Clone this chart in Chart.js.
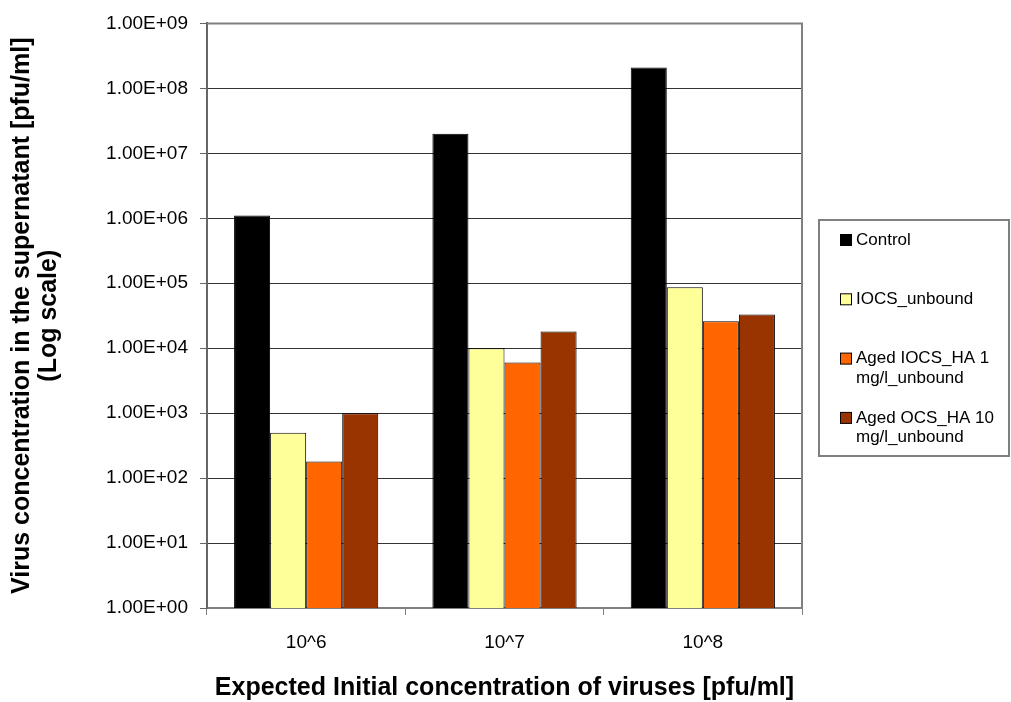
<!DOCTYPE html>
<html>
<head>
<meta charset="utf-8">
<script src="https://cdn.jsdelivr.net/npm/chart.js@4/dist/chart.umd.min.js"></script>
<style>
  body { margin: 0; background: #fff; }
  #wrap { width: 1011px; height: 702px; }
</style>
</head>
<body>
<div id="wrap"><canvas id="chart" width="1011" height="702"></canvas></div>
<script>
// data
const categories = ['10^6', '10^7', '10^8'];
const seriesNames = ['Control', 'IOCS_unbound', 'Aged IOCS_HA 1 mg/l_unbound', 'Aged OCS_HA 10 mg/l_unbound'];
const control = [1.1e6, 2.0e7, 2.1e8];
const iocsUnbound = [500, 1.0e4, 8.7e4];
const agedIocsHa1 = [180, 6000, 2.6e4];
const agedOcsHa10 = [1000, 1.8e4, 3.3e4];
const yTicks = [1, 1e1, 1e2, 1e3, 1e4, 1e5, 1e6, 1e7, 1e8, 1e9];

const colors = ['#000000', '#FFFF99', '#FF6600', '#993300'];
const FONT = "Arial, 'Liberation Sans', sans-serif";

// 1e9 -> "1.00E+09"
const sciLabel = (v) => {
    const [m, e] = Number(v).toExponential(2).split('e');
    return m + 'E' + e[0] + e.slice(1).padStart(2, '0');
};

// plot frame (top + right) like the excel chart
const framePlugin = {
    id: 'frame',
    afterDatasetsDraw(chart) {
        const {ctx, chartArea: a} = chart;
        ctx.save();
        ctx.strokeStyle = '#808080';
        ctx.lineWidth = 2;
        ctx.beginPath();
        ctx.moveTo(a.left, a.top);
        ctx.lineTo(a.right, a.top);
        ctx.lineTo(a.right, a.bottom);
        ctx.stroke();
        ctx.restore();
    }
};

// boxed legend on the right, labels wrapped
const boxLegend = {
    id: 'boxLegend',
    afterDraw(chart) {
        const ctx = chart.ctx;
        const box = {x: 819, y: 220, w: 190, h: 236};
        ctx.save();
        ctx.strokeStyle = '#808080';
        ctx.lineWidth = 2;
        ctx.strokeRect(box.x, box.y, box.w, box.h);
        ctx.font = '17px ' + FONT;
        ctx.textBaseline = 'middle';
        const maxW = box.w - 42;
        chart.data.datasets.forEach((ds, i) => {
            const cy = box.y + 20 + i * 59.3;
            ctx.fillStyle = ds.backgroundColor;
            ctx.fillRect(840.5, cy - 5.5, 11, 11);
            ctx.strokeStyle = '#000';
            ctx.lineWidth = 1;
            ctx.strokeRect(840.5, cy - 5.5, 11, 11);
            // wrap words
            const words = ds.label.split(' ');
            const lines = [];
            let cur = '';
            words.forEach(w => {
                const t = cur ? cur + ' ' + w : w;
                if (ctx.measureText(t).width > maxW && cur) { lines.push(cur); cur = w; }
                else cur = t;
            });
            lines.push(cur);
            ctx.fillStyle = '#000';
            lines.forEach((l, k) => ctx.fillText(l, 856, cy + k * 19.5));
        });
        ctx.restore();
    }
};

const seriesValues = [control, iocsUnbound, agedIocsHa1, agedOcsHa10];

new Chart(document.getElementById('chart'), {
    type: 'bar',
    data: {
        labels: categories,
        datasets: seriesValues.map((vals, i) => ({
            label: seriesNames[i],
            data: vals,
            backgroundColor: colors[i],
            borderColor: '#000',
            borderWidth: 1,
            categoryPercentage: 0.727,
            barPercentage: 1
        }))
    },
    options: {
        responsive: false,
        animation: false,
        layout: { padding: { left: 0, right: 209, top: 21, bottom: 0 } },
        plugins: { legend: { display: false }, tooltip: { enabled: false } },
        scales: {
            x: {
                grid: { offset: true, drawOnChartArea: false, tickLength: 7, color: '#808080', lineWidth: 1 },
                border: { color: '#808080', width: 2 },
                ticks: { color: '#000', font: { family: FONT, size: 19 }, padding: 16 },
                title: {
                    display: true,
                    text: 'Expected Initial concentration of viruses [pfu/ml]',
                    color: '#000',
                    font: { family: FONT, size: 25, weight: 'bold', lineHeight: 1.1 },
                    padding: { top: 0, bottom: 0 }
                },
                afterFit: (s) => { s.height = 94; }
            },
            y: {
                type: 'logarithmic',
                min: 1,
                max: 1e9,
                afterBuildTicks: (s) => { s.ticks = yTicks.map(v => ({ value: v })); },
                grid: { color: '#333', lineWidth: 1, tickLength: 7, tickColor: '#666' },
                border: { color: '#666', width: 2 },
                ticks: {
                    color: '#000',
                    font: { family: FONT, size: 19 },
                    padding: 12,
                    callback: (v) => sciLabel(v)
                },
                title: {
                    display: true,
                    text: ['Virus concentration in the supernatant [pfu/ml]', '(Log scale)'],
                    color: '#000',
                    font: { family: FONT, size: 25, weight: 'bold', lineHeight: 1.1 },
                    padding: { top: 8, bottom: 0 }
                },
                afterFit: (s) => { s.width = 207; }
            }
        }
    },
    plugins: [framePlugin, boxLegend]
});
</script>
</body>
</html>
